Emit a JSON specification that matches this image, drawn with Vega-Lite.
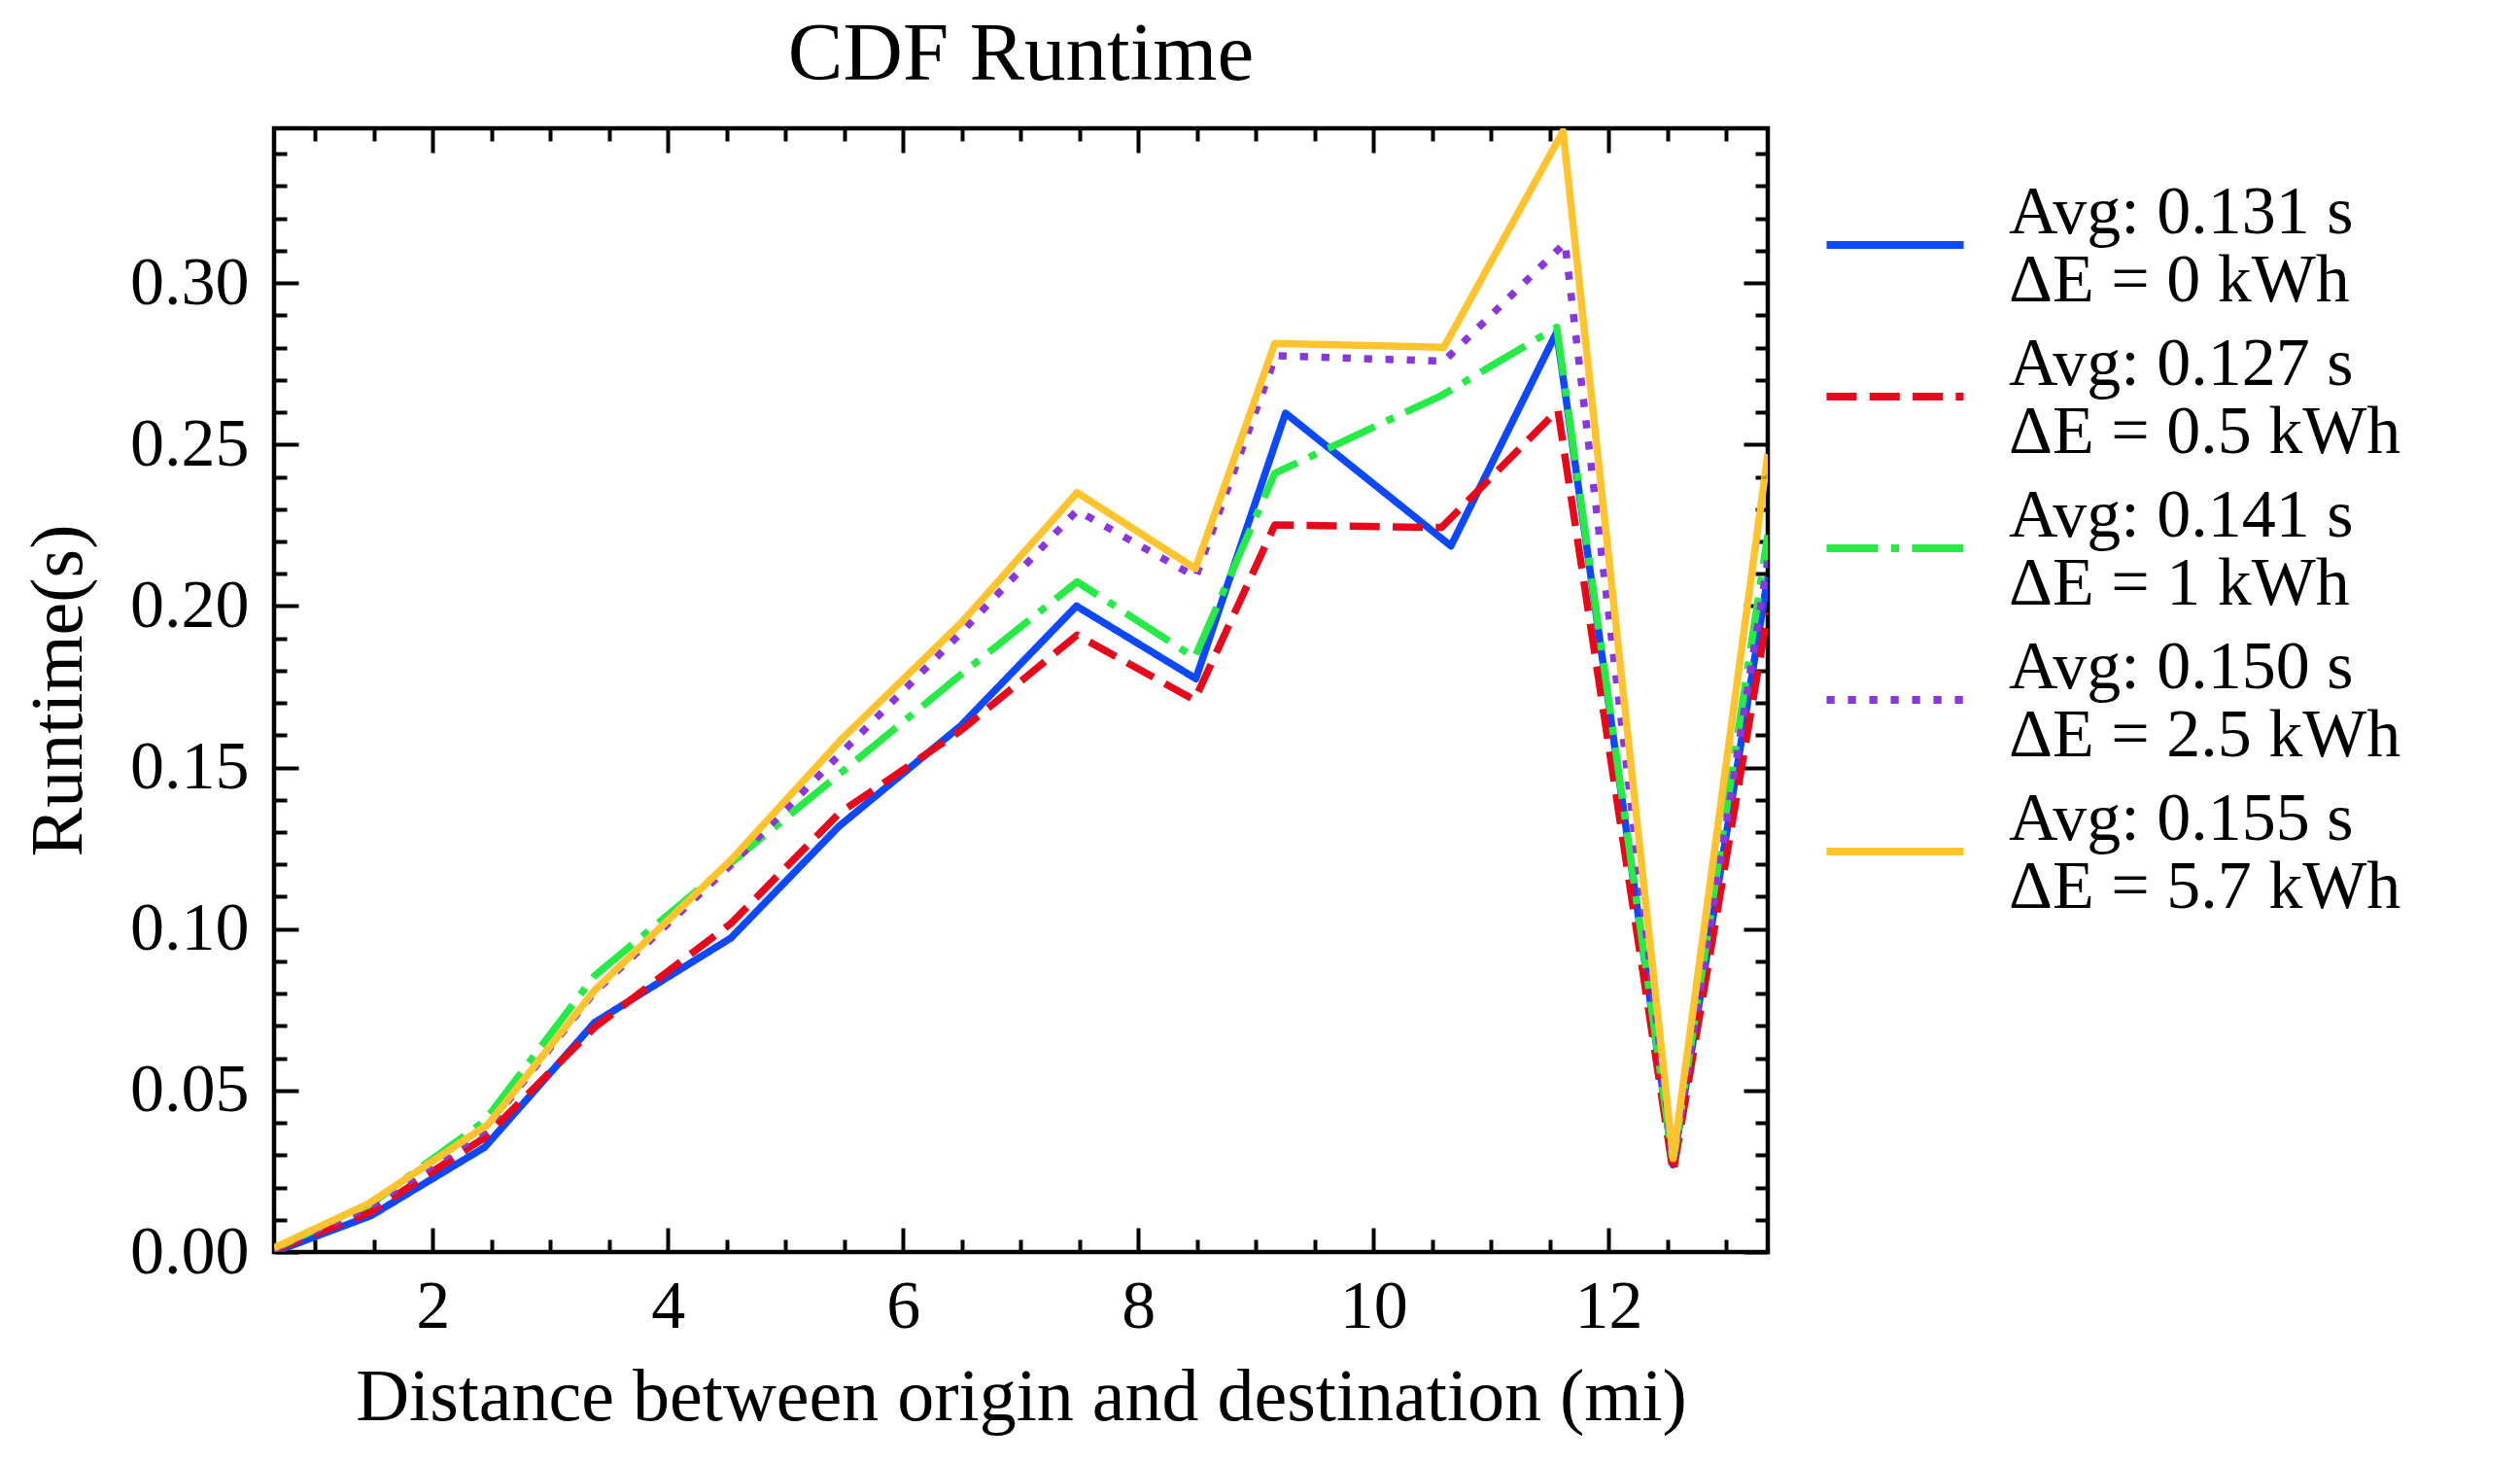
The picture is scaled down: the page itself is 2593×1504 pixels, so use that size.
{
  "$schema": "https://vega.github.io/schema/vega-lite/v6.json",
  "width": 1537,
  "height": 1156,
  "autosize": {"type": "none"},
  "padding": {"left": 282, "top": 132, "right": 774, "bottom": 216},
  "background": "white",
  "title": {"text": "CDF Runtime", "fontSize": 85, "font": "Liberation Serif", "fontWeight": "normal", "color": "black", "anchor": "middle", "baseline": "alphabetic", "offset": -37},
  "config": {
    "view": {"stroke": "black", "strokeWidth": 4.5},
    "axis": {"domain": false, "grid": false, "labelFont": "Liberation Serif", "titleFont": "Liberation Serif", "labelFontSize": 70, "titleFontSize": 76, "labelColor": "black", "titleColor": "black", "tickColor": "black", "tickWidth": 4, "titleFontWeight": "normal", "labelFlush": false, "labelOverlap": false},
    "legend": {"labelFont": "Liberation Serif", "labelFontSize": 70, "labelColor": "black"}
  },
  "data": {"values": [
    {"s": "Avg: 0.131 s|ΔE = 0 kWh", "x": 0.65, "y": 0.0},
    {"s": "Avg: 0.131 s|ΔE = 0 kWh", "x": 1.477, "y": 0.0113},
    {"s": "Avg: 0.131 s|ΔE = 0 kWh", "x": 2.44, "y": 0.0324},
    {"s": "Avg: 0.131 s|ΔE = 0 kWh", "x": 3.378, "y": 0.0711},
    {"s": "Avg: 0.131 s|ΔE = 0 kWh", "x": 4.535, "y": 0.0972},
    {"s": "Avg: 0.131 s|ΔE = 0 kWh", "x": 5.455, "y": 0.1318},
    {"s": "Avg: 0.131 s|ΔE = 0 kWh", "x": 6.49, "y": 0.1629},
    {"s": "Avg: 0.131 s|ΔE = 0 kWh", "x": 7.475, "y": 0.2},
    {"s": "Avg: 0.131 s|ΔE = 0 kWh", "x": 8.49, "y": 0.1775},
    {"s": "Avg: 0.131 s|ΔE = 0 kWh", "x": 9.253, "y": 0.2597},
    {"s": "Avg: 0.131 s|ΔE = 0 kWh", "x": 10.66, "y": 0.2186},
    {"s": "Avg: 0.131 s|ΔE = 0 kWh", "x": 11.56, "y": 0.2848},
    {"s": "Avg: 0.131 s|ΔE = 0 kWh", "x": 12.55, "y": 0.027},
    {"s": "Avg: 0.131 s|ΔE = 0 kWh", "x": 13.355, "y": 0.209},
    {"s": "Avg: 0.127 s|ΔE = 0.5 kWh", "x": 0.65, "y": 0.0005},
    {"s": "Avg: 0.127 s|ΔE = 0.5 kWh", "x": 1.477, "y": 0.0125},
    {"s": "Avg: 0.127 s|ΔE = 0.5 kWh", "x": 2.44, "y": 0.0354},
    {"s": "Avg: 0.127 s|ΔE = 0.5 kWh", "x": 3.378, "y": 0.0696},
    {"s": "Avg: 0.127 s|ΔE = 0.5 kWh", "x": 4.535, "y": 0.1017},
    {"s": "Avg: 0.127 s|ΔE = 0.5 kWh", "x": 5.455, "y": 0.1358},
    {"s": "Avg: 0.127 s|ΔE = 0.5 kWh", "x": 6.49, "y": 0.1614},
    {"s": "Avg: 0.127 s|ΔE = 0.5 kWh", "x": 7.48, "y": 0.191},
    {"s": "Avg: 0.127 s|ΔE = 0.5 kWh", "x": 8.48, "y": 0.1709},
    {"s": "Avg: 0.127 s|ΔE = 0.5 kWh", "x": 9.162, "y": 0.2251},
    {"s": "Avg: 0.127 s|ΔE = 0.5 kWh", "x": 10.58, "y": 0.2243},
    {"s": "Avg: 0.127 s|ΔE = 0.5 kWh", "x": 11.57, "y": 0.2607},
    {"s": "Avg: 0.127 s|ΔE = 0.5 kWh", "x": 12.55, "y": 0.0247},
    {"s": "Avg: 0.127 s|ΔE = 0.5 kWh", "x": 13.355, "y": 0.198},
    {"s": "Avg: 0.141 s|ΔE = 1 kWh", "x": 0.65, "y": 0.001},
    {"s": "Avg: 0.141 s|ΔE = 1 kWh", "x": 1.477, "y": 0.015},
    {"s": "Avg: 0.141 s|ΔE = 1 kWh", "x": 2.44, "y": 0.0405},
    {"s": "Avg: 0.141 s|ΔE = 1 kWh", "x": 3.378, "y": 0.0856},
    {"s": "Avg: 0.141 s|ΔE = 1 kWh", "x": 4.535, "y": 0.1205},
    {"s": "Avg: 0.141 s|ΔE = 1 kWh", "x": 5.46, "y": 0.148},
    {"s": "Avg: 0.141 s|ΔE = 1 kWh", "x": 6.5, "y": 0.179},
    {"s": "Avg: 0.141 s|ΔE = 1 kWh", "x": 7.48, "y": 0.2075},
    {"s": "Avg: 0.141 s|ΔE = 1 kWh", "x": 8.48, "y": 0.184},
    {"s": "Avg: 0.141 s|ΔE = 1 kWh", "x": 9.162, "y": 0.2411},
    {"s": "Avg: 0.141 s|ΔE = 1 kWh", "x": 10.58, "y": 0.2652},
    {"s": "Avg: 0.141 s|ΔE = 1 kWh", "x": 11.56, "y": 0.2863},
    {"s": "Avg: 0.141 s|ΔE = 1 kWh", "x": 12.55, "y": 0.0275},
    {"s": "Avg: 0.141 s|ΔE = 1 kWh", "x": 13.355, "y": 0.222},
    {"s": "Avg: 0.150 s|ΔE = 2.5 kWh", "x": 0.65, "y": 0.001},
    {"s": "Avg: 0.150 s|ΔE = 2.5 kWh", "x": 1.477, "y": 0.0142},
    {"s": "Avg: 0.150 s|ΔE = 2.5 kWh", "x": 2.44, "y": 0.0375},
    {"s": "Avg: 0.150 s|ΔE = 2.5 kWh", "x": 3.378, "y": 0.0806},
    {"s": "Avg: 0.150 s|ΔE = 2.5 kWh", "x": 4.535, "y": 0.1198},
    {"s": "Avg: 0.150 s|ΔE = 2.5 kWh", "x": 5.46, "y": 0.154},
    {"s": "Avg: 0.150 s|ΔE = 2.5 kWh", "x": 6.5, "y": 0.192},
    {"s": "Avg: 0.150 s|ΔE = 2.5 kWh", "x": 7.48, "y": 0.2296},
    {"s": "Avg: 0.150 s|ΔE = 2.5 kWh", "x": 8.49, "y": 0.209},
    {"s": "Avg: 0.150 s|ΔE = 2.5 kWh", "x": 9.17, "y": 0.2775},
    {"s": "Avg: 0.150 s|ΔE = 2.5 kWh", "x": 10.6, "y": 0.2758},
    {"s": "Avg: 0.150 s|ΔE = 2.5 kWh", "x": 11.63, "y": 0.3124},
    {"s": "Avg: 0.150 s|ΔE = 2.5 kWh", "x": 12.55, "y": 0.028},
    {"s": "Avg: 0.150 s|ΔE = 2.5 kWh", "x": 13.355, "y": 0.214},
    {"s": "Avg: 0.155 s|ΔE = 5.7 kWh", "x": 0.65, "y": 0.0013},
    {"s": "Avg: 0.155 s|ΔE = 5.7 kWh", "x": 1.45, "y": 0.0149},
    {"s": "Avg: 0.155 s|ΔE = 5.7 kWh", "x": 2.47, "y": 0.0395},
    {"s": "Avg: 0.155 s|ΔE = 5.7 kWh", "x": 3.378, "y": 0.0811},
    {"s": "Avg: 0.155 s|ΔE = 5.7 kWh", "x": 4.535, "y": 0.1213},
    {"s": "Avg: 0.155 s|ΔE = 5.7 kWh", "x": 5.48, "y": 0.1589},
    {"s": "Avg: 0.155 s|ΔE = 5.7 kWh", "x": 6.5, "y": 0.195},
    {"s": "Avg: 0.155 s|ΔE = 5.7 kWh", "x": 7.48, "y": 0.2351},
    {"s": "Avg: 0.155 s|ΔE = 5.7 kWh", "x": 8.487, "y": 0.2116},
    {"s": "Avg: 0.155 s|ΔE = 5.7 kWh", "x": 9.162, "y": 0.2813},
    {"s": "Avg: 0.155 s|ΔE = 5.7 kWh", "x": 10.6, "y": 0.2801},
    {"s": "Avg: 0.155 s|ΔE = 5.7 kWh", "x": 11.614, "y": 0.347},
    {"s": "Avg: 0.155 s|ΔE = 5.7 kWh", "x": 12.55, "y": 0.029},
    {"s": "Avg: 0.155 s|ΔE = 5.7 kWh", "x": 13.355, "y": 0.247}
  ]},
  "resolve": {"axis": {"x": "independent", "y": "independent"}},
  "layer": [
    {
      "mark": {"type": "line", "strokeWidth": 7.5, "clip": true, "strokeJoin": "round"},
      "encoding": {
        "x": {"field": "x", "type": "quantitative", "scale": {"domain": [0.65, 13.355], "nice": false, "zero": false},
              "axis": {"orient": "bottom", "ticks": false, "values": [2, 4, 6, 8, 10, 12], "title": "Distance between origin and destination (mi)", "labelPadding": 22, "titlePadding": 21}},
        "y": {"field": "y", "type": "quantitative", "scale": {"domain": [0, 0.3479], "nice": false},
              "axis": {"orient": "left", "ticks": false, "values": [0, 0.05, 0.1, 0.15, 0.2, 0.25, 0.3], "format": ".2f", "title": "Runtime(s)", "labelPadding": 26, "titlePadding": 34}},
        "color": {"field": "s", "type": "nominal",
                  "scale": {"domain": ["Avg: 0.131 s|ΔE = 0 kWh", "Avg: 0.127 s|ΔE = 0.5 kWh", "Avg: 0.141 s|ΔE = 1 kWh", "Avg: 0.150 s|ΔE = 2.5 kWh", "Avg: 0.155 s|ΔE = 5.7 kWh"],
                            "range": ["#0d49fb", "#e6091c", "#26eb47", "#8936df", "#fec32d"]},
                  "legend": {"orient": "none", "legendX": 1593, "legendY": 45, "title": null, "symbolType": "stroke", "symbolSize": 19900, "symbolStrokeWidth": 8, "labelOffset": 42, "rowPadding": 9, "labelExpr": "split(datum.label, '|')", "labelLimit": 1000,
                             "encode": {"labels": {"update": {"lineHeight": {"value": 70}, "dy": {"value": -33}}}}}},
        "strokeDash": {"field": "s", "type": "nominal",
                  "scale": {"domain": ["Avg: 0.131 s|ΔE = 0 kWh", "Avg: 0.127 s|ΔE = 0.5 kWh", "Avg: 0.141 s|ΔE = 1 kWh", "Avg: 0.150 s|ΔE = 2.5 kWh", "Avg: 0.155 s|ΔE = 5.7 kWh"],
                            "range": [[1, 0], [31, 13.3], [53, 13.3, 8.3, 13.3], [8.3, 13.7], [1, 0]]},
                  "legend": {"orient": "none", "legendX": 1593, "legendY": 45, "title": null, "symbolType": "stroke", "symbolSize": 19900, "symbolStrokeWidth": 8, "labelOffset": 42, "rowPadding": 9, "labelExpr": "split(datum.label, '|')", "labelLimit": 1000,
                             "encode": {"labels": {"update": {"lineHeight": {"value": 70}, "dy": {"value": -33}}}}}},
        "order": {"field": "x", "type": "quantitative"}
      }
    },
    {
      "mark": {"type": "point", "opacity": 0},
      "encoding": {
        "x": {"field": "x", "type": "quantitative", "axis": {"orient": "bottom", "labels": false, "tickSize": -25, "values": [2, 4, 6, 8, 10, 12], "title": null}},
        "y": {"field": "y", "type": "quantitative", "axis": {"orient": "left", "labels": false, "tickSize": -25, "values": [0, 0.05, 0.1, 0.15, 0.2, 0.25, 0.3], "title": null}}
      }
    },
    {
      "mark": {"type": "point", "opacity": 0},
      "encoding": {
        "x": {"field": "x", "type": "quantitative", "axis": {"orient": "bottom", "labels": false, "tickSize": -13, "values": [1, 1.5, 2.5, 3, 3.5, 4.5, 5, 5.5, 6.5, 7, 7.5, 8.5, 9, 9.5, 10.5, 11, 11.5, 12.5, 13], "title": null}},
        "y": {"field": "y", "type": "quantitative", "axis": {"orient": "left", "labels": false, "tickSize": -13, "values": [0.01, 0.02, 0.03, 0.04, 0.06, 0.07, 0.08, 0.09, 0.11, 0.12, 0.13, 0.14, 0.16, 0.17, 0.18, 0.19, 0.21, 0.22, 0.23, 0.24, 0.26, 0.27, 0.28, 0.29, 0.31, 0.32, 0.33, 0.34], "title": null}}
      }
    },
    {
      "mark": {"type": "point", "opacity": 0},
      "encoding": {
        "x": {"field": "x", "type": "quantitative", "axis": {"orient": "top", "labels": false, "tickSize": -25, "values": [2, 4, 6, 8, 10, 12], "title": null}},
        "y": {"field": "y", "type": "quantitative", "axis": {"orient": "right", "labels": false, "tickSize": -25, "values": [0, 0.05, 0.1, 0.15, 0.2, 0.25, 0.3], "title": null}}
      }
    },
    {
      "mark": {"type": "point", "opacity": 0},
      "encoding": {
        "x": {"field": "x", "type": "quantitative", "axis": {"orient": "top", "labels": false, "tickSize": -13, "values": [1, 1.5, 2.5, 3, 3.5, 4.5, 5, 5.5, 6.5, 7, 7.5, 8.5, 9, 9.5, 10.5, 11, 11.5, 12.5, 13], "title": null}},
        "y": {"field": "y", "type": "quantitative", "axis": {"orient": "right", "labels": false, "tickSize": -13, "values": [0.01, 0.02, 0.03, 0.04, 0.06, 0.07, 0.08, 0.09, 0.11, 0.12, 0.13, 0.14, 0.16, 0.17, 0.18, 0.19, 0.21, 0.22, 0.23, 0.24, 0.26, 0.27, 0.28, 0.29, 0.31, 0.32, 0.33, 0.34], "title": null}}
      }
    }
  ]
}
